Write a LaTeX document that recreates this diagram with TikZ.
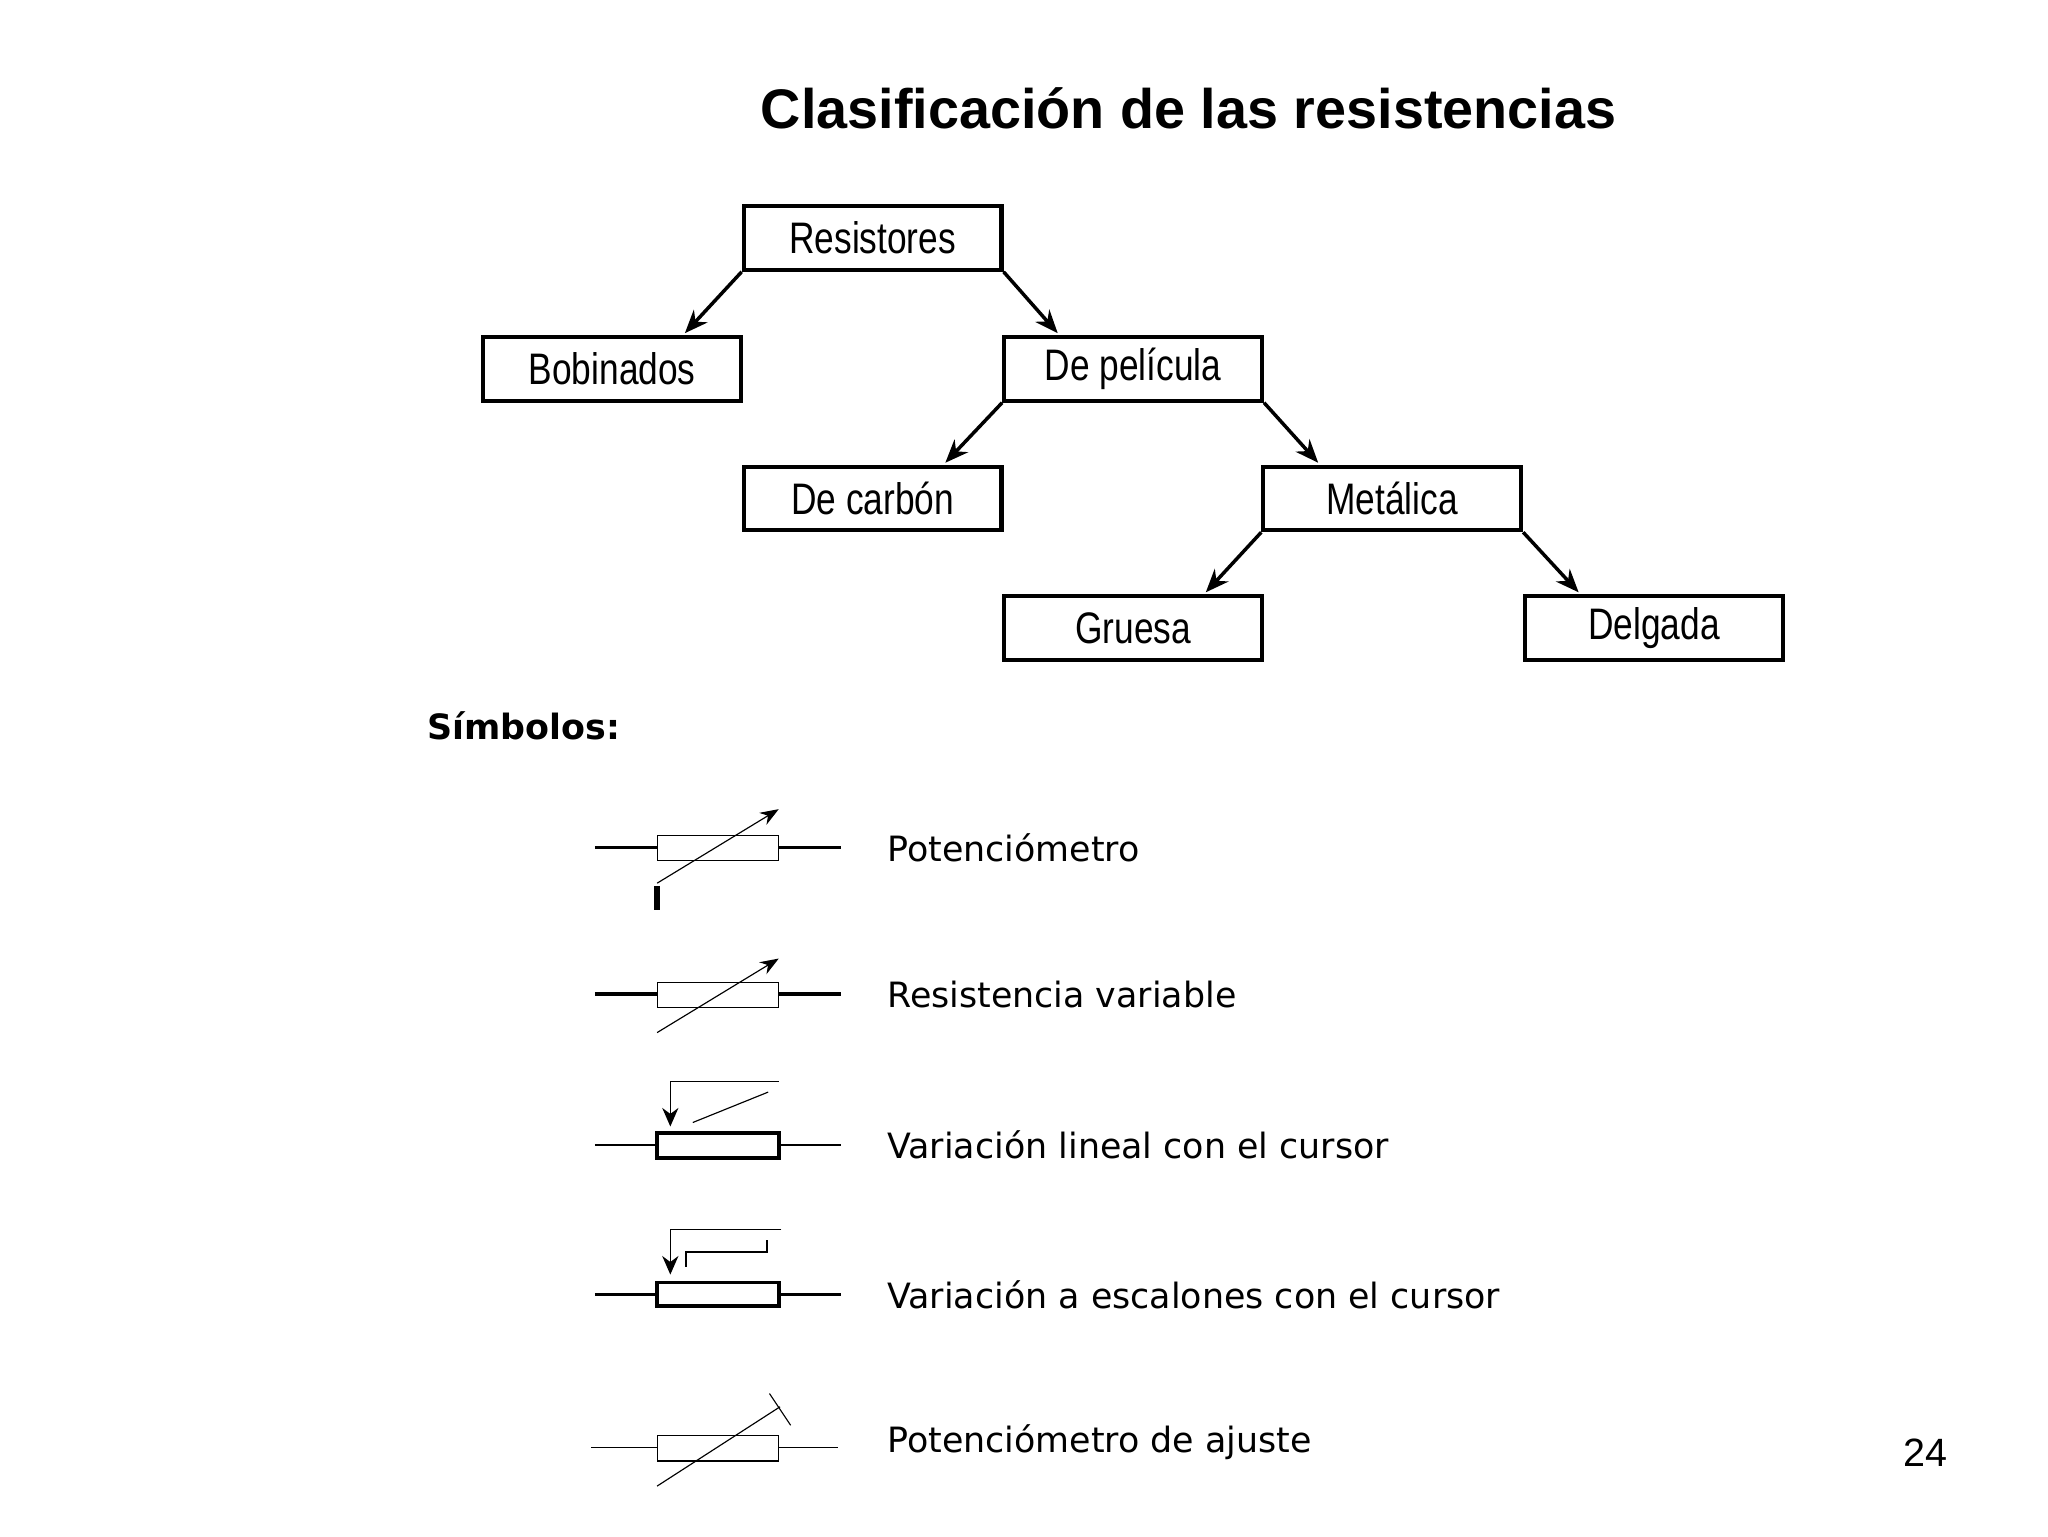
\documentclass[tikz,border=0pt]{standalone}
\usepackage{fontspec}
\setmainfont{Liberation Sans}
\newfontfamily\dv{DejaVu Sans}
\usetikzlibrary{arrows.meta}
\begin{document}
\begin{tikzpicture}[x=0.02cm,y=-0.02cm,
 box/.style={draw,line width=1.8pt,minimum width=3.9cm,minimum height=0.96cm,inner sep=0pt,font=\fontsize{19}{19}\selectfont},
 arr/.style={line width=1.5pt,-{Stealth[length=10pt,width=8pt]}},
 sym/.style={anchor=west,font=\dv\fontsize{15}{15}\selectfont},
 thk/.style={line width=1.6pt}, thn/.style={line width=0.5pt}]
\useasboundingbox (0,0) rectangle (1549,1162);
\node[font=\bfseries\fontsize{24}{24}\selectfont] (title) at (899,82) {Clasificación de las resistencias};
\newcommand\bx[4]{\node[box] (#1) at (#2,#3) {\scalebox{0.8}[1]{#4}};}
\bx{res}{660}{180}{Resistores}
\bx{bob}{463}{279}{Bobinados}
\bx{pel}{857}{279}{De película}
\bx{car}{660}{377}{De carbón}
\bx{met}{1053}{377}{Metálica}
\bx{gru}{857}{475}{Gruesa}
\bx{del}{1251}{475}{Delgada}
\draw[arr] (res.south west) -- (518,252);
\draw[arr] (res.south east) -- (800,252);
\draw[arr] (pel.south west) -- (715,350);
\draw[arr] (pel.south east) -- (997,350);
\draw[arr] (met.south west) -- (912,448);
\draw[arr] (met.south east) -- (1194,448);
\node[anchor=west,font=\dv\bfseries\fontsize{15}{15}\selectfont] (sim) at (317,549) {Símbolos:};
% row1
\draw[thk] (450,641) -- (497,641) (589,641) -- (636,641);
\draw[thn] (497,632) rectangle (589,651);
\draw[thn,-{Stealth[length=8pt,width=6pt]}] (497,668) -- (589,612);
\draw[line width=2.5pt] (497,670) -- (497,688);
\node[sym] (t1) at (665,641) {Potenciómetro};
% row2
\draw[thk] (450,752) -- (497,752) (589,752) -- (636,752);
\draw[thn] (497,743) rectangle (589,762);
\draw[thn,-{Stealth[length=8pt,width=6pt]}] (497,781) -- (589,725);
\node[sym] (t2) at (665,752) {Resistencia variable};
% row3
\draw[thn] (450,866) -- (497,866) (589,866) -- (636,866);
\draw[thk] (497,857) rectangle (589,876);
\draw[thn,-{Stealth[length=8pt,width=7pt]}] (589,818) -- (507,818) -- (507,852);
\draw[thn] (524,849) -- (581,826);
\node[sym] (t3) at (665,866) {Variación lineal con el cursor};
% row4
\draw[thk] (450,979) -- (497,979) (589,979) -- (636,979);
\draw[thk] (497,970) rectangle (589,988);
\draw[thn,-{Stealth[length=8pt,width=7pt]}] (591,930) -- (507,930) -- (507,964);
\draw[line width=1pt] (519,958) -- (519,947) -- (580,947) -- (580,938);
\node[sym] (t4) at (665,979) {Variación a escalones con el cursor};
% row5
\draw[thn] (447,1095) -- (497,1095) (589,1095) -- (634,1095);
\draw[thn] (497,1086) rectangle (589,1105);
\draw[thn] (497,1124) -- (590,1064);
\draw[thn] (582,1054) -- (598,1078);
\node[sym] (t5) at (665,1091) {Potenciómetro de ajuste};
\node[font=\fontsize{17}{17}\selectfont] (pg) at (1456,1099) {24};
\end{tikzpicture}
\end{document}
